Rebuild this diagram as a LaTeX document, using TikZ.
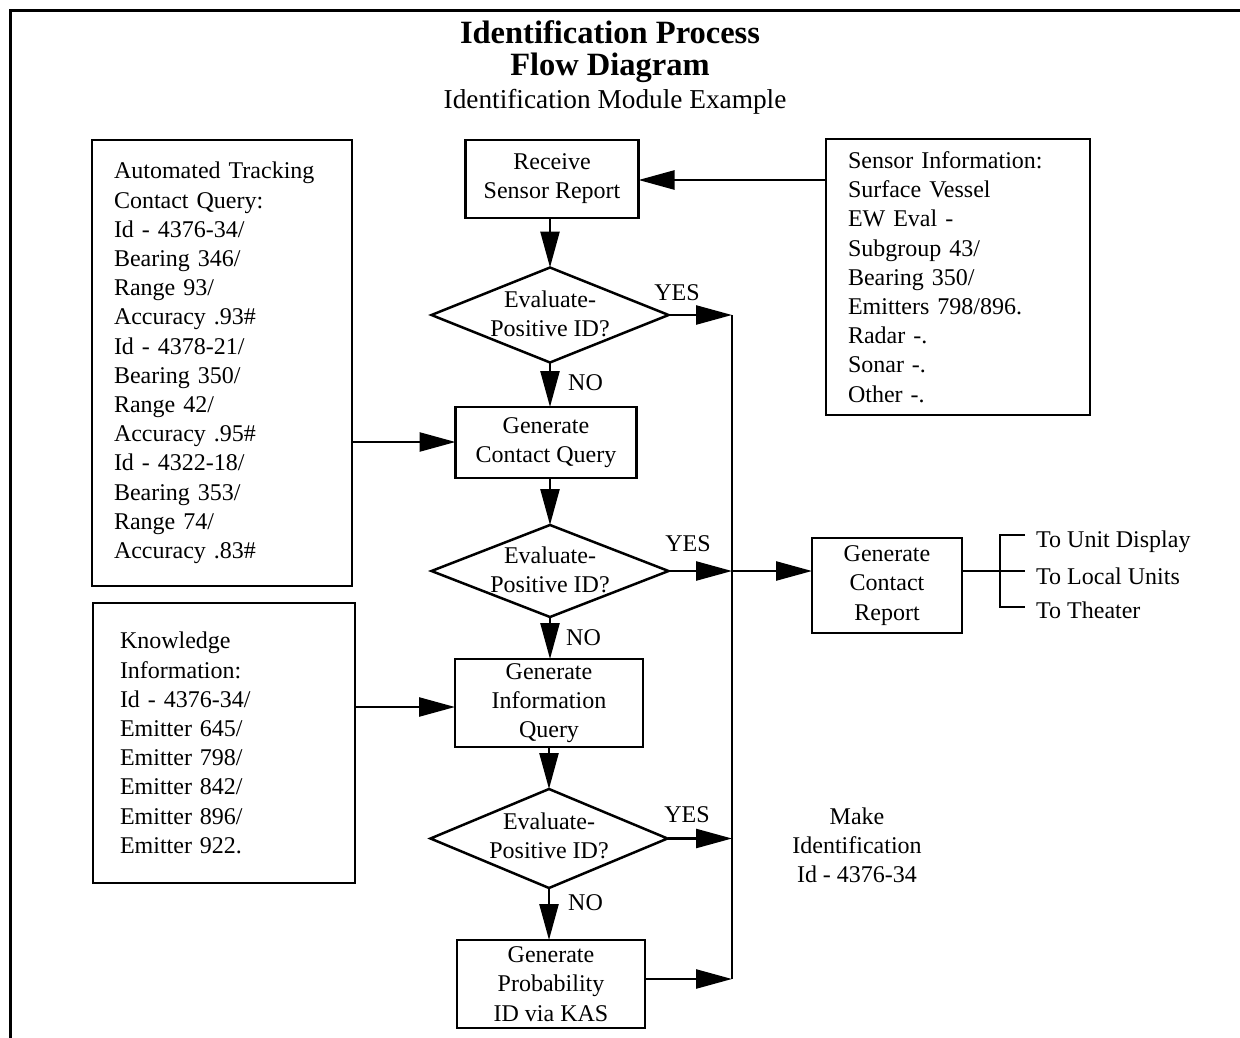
\documentclass[tikz,border=0pt]{standalone}
\usepackage{fontspec}
\setmainfont{Liberation Serif}
\usetikzlibrary{shapes.geometric,arrows.meta}
\newcommand\myfont{\fontsize{24}{29.2}\selectfont}
\begin{document}
\begin{tikzpicture}[x=1pt,y=-1pt,
  box/.style={draw, rectangle, line width=2.5pt, inner sep=0pt, outer sep=0pt, align=center, font=\myfont},
  infobox/.style={draw, rectangle, line width=2.5pt, inner xsep=22pt, inner ysep=0pt, outer sep=0pt, align=left, font=\myfont},
  decision/.style={draw, diamond, line width=2.5pt, inner sep=0pt, outer sep=0pt, minimum width=237pt, minimum height=95pt},
  arr/.style={line width=2.5pt, -{Triangle[length=36pt,width=19pt]}},
  conn/.style={line width=2.5pt},
  lbl/.style={font=\myfont, inner sep=0pt}
]
\useasboundingbox (0,0) rectangle (1240,1038);
\draw[line width=3.5pt] (1240,10.5) -- (10.5,10.5) -- (10.5,1038);

% titles
\node[font=\fontsize{32.5}{32}\selectfont\bfseries, align=center, inner sep=0pt] (title) at (610,52) {Identification Process\\Flow Diagram};
\node[font=\fontsize{27.3}{30}\selectfont, inner sep=0pt] (subtitle) at (615,102) {Identification Module Example};

% middle column
\node[box, minimum width=173pt, minimum height=78pt] (recv) at (552,179) {Receive\\Sensor Report};
\node[decision] (d1) at (550,315) {};
\node[lbl, align=center] (d1t) at (550,314) {Evaluate-\\Positive ID?};
\node[box, minimum width=181pt, minimum height=71pt] (gcq) at (546,442.5) {Generate\\Contact Query};
\node[decision, minimum height=92pt] (d2) at (550,571) {};
\node[lbl, align=center] (d2t) at (550,570) {Evaluate-\\Positive ID?};
\node[box, minimum width=188pt, minimum height=88pt] (giq) at (549,703) {Generate\\Information\\Query};
\node[decision, minimum height=99pt] (d3) at (549,838.5) {};
\node[lbl, align=center] (d3t) at (549,836) {Evaluate-\\Positive ID?};
\node[box, minimum width=188pt, minimum height=88pt] (prob) at (551,984) {Generate\\Probability\\ID via KAS};

% side boxes
\node[infobox, minimum width=260pt, minimum height=446pt, text width=216pt] (left1) at (222,363) {Automated Tracking\\Contact Query:\\Id - 4376-34/\\Bearing 346/\\Range 93/\\Accuracy .93\#\\Id - 4378-21/\\Bearing 350/\\Range 42/\\Accuracy .95\#\\Id - 4322-18/\\Bearing 353/\\Range 74/\\Accuracy .83\#};
\node[infobox, inner xsep=27pt, minimum width=262pt, minimum height=280pt, text width=208pt] (left2) at (224,743) {Knowledge\\Information:\\Id - 4376-34/\\Emitter 645/\\Emitter 798/\\Emitter 842/\\Emitter 896/\\Emitter 922.};
\node[infobox, minimum width=264pt, minimum height=276pt, text width=220pt] (sensor) at (958,277) {Sensor Information:\\Surface Vessel\\EW Eval -\\Subgroup 43/\\Bearing 350/\\Emitters 798/896.\\Radar -.\\Sonar -.\\Other -.};

\node[box, minimum width=150pt, minimum height=95pt] (gcr) at (887,585.5) {Generate\\Contact\\Report};

\node[lbl, align=center] (make) at (857,845) {Make\\Identification\\Id - 4376-34};

% labels
\node[lbl] (yes1) at (677,293) {YES};
\node[lbl] (yes2) at (688,544) {YES};
\node[lbl] (yes3) at (687,815) {YES};
\node[lbl, anchor=west] (no1) at (568,383) {NO};
\node[lbl, anchor=west] (no2) at (566,638) {NO};
\node[lbl, anchor=west] (no3) at (568,903) {NO};

\node[lbl, anchor=west] (out1) at (1036,542) {To Unit Display};
\node[lbl, anchor=west] (out2) at (1036,576) {To Local Units};
\node[lbl, anchor=west] (out3) at (1036,610) {To Theater};

% junction coordinates
\coordinate (j1) at (732,315);
\coordinate (j2) at (732,571);
\coordinate (j3) at (732,838.5);
\coordinate (j4) at (732,979);
\coordinate (b1) at (1025,535);
\coordinate (b2) at (1025,571);
\coordinate (b3) at (1025,607);
\coordinate (bt) at (1000,535);
\coordinate (bb) at (1000,607);

% connectors
\draw[arr] (sensor.west |- 0,180) -- (recv.east |- 0,180);
\draw[arr] (recv.south -| d1.north) -- (d1.north);
\draw[arr] (d1.south) -- (d1.south |- gcq.north);
\draw[arr] (gcq.south -| d2.north) -- (d2.north);
\draw[arr] (d2.south) -- (d2.south |- giq.north);
\draw[arr] (giq.south -| d3.north) -- (d3.north);
\draw[arr] (d3.south) -- (d3.south |- prob.north);

\draw[arr] (left1.east |- 0,442) -- (gcq.west |- 0,442);
\draw[arr] (left2.east |- 0,707) -- (giq.west |- 0,707);

\draw[arr] (d1.east) -- (j1);
\draw[arr] (d2.east) -- (j2);
\draw[arr] (d3.east) -- (j3);
\draw[arr] (prob.east |- j4) -- (j4);
\draw[conn] (j1) -- (j4);
\draw[arr] (j2) -- (gcr.west |- j2);

\draw[conn] (gcr.east |- j2) -- (b2);
\draw[conn] (b1) -- (bt) -- (bb) -- (b3);
\end{tikzpicture}
\end{document}
